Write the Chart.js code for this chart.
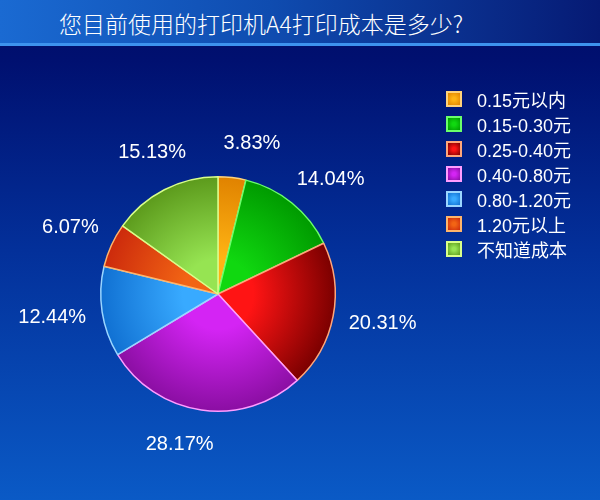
<!DOCTYPE html>
<html>
<head>
<meta charset="utf-8">
<script src="https://cdn.jsdelivr.net/npm/chart.js@4/dist/chart.umd.min.js"></script>
<style>
  html, body { margin: 0; padding: 0; }
  body {
    width: 600px; height: 500px; overflow: hidden; position: relative;
    background: linear-gradient(to bottom, #000c66 0px, #001070 60px, #03309a 250px, #0a5ac6 500px);
    font-family: "Liberation Sans", Arial, "Noto Sans CJK SC", sans-serif;
  }
  #title-bar {
    position: absolute; left: 0; top: 0; width: 600px; height: 43px;
    background: linear-gradient(to right, #1a6ad2 0%, #0f4cb0 45%, #061a74 100%);
    border-bottom: 3px solid #3d93ee;
  }
  #title {
    position: absolute; left: 0; width: 522px; top: 6px; text-align: center;
    color: #fff; font-size: 23px; font-family: "Noto Sans CJK SC", "Liberation Sans", sans-serif;
    font-weight: 300;
  }
  #chart-wrap { position: absolute; left: 0; top: 0; width: 600px; height: 500px; }
  #legend { position: absolute; left: 446px; top: 86px; color: #fff; font-size: 18px; }
  .legend-row { display: flex; align-items: center; height: 25px; }
  .legend-box { width: 16px; height: 16px; margin-right: 15px; border: 2px solid; box-sizing: border-box; }
</style>
</head>
<body>
<div id="title-bar"></div>
<div id="title">您目前使用的打印机A4打印成本是多少?</div>
<div id="chart-wrap"><canvas id="pie"></canvas></div>
<div id="legend"></div>
<script>
const categories = ["0.15元以内", "0.15-0.30元", "0.25-0.40元", "0.40-0.80元", "0.80-1.20元", "1.20元以上", "不知道成本"];
const shares = [3.83, 14.04, 20.31, 28.17, 12.44, 6.07, 15.13];

// inner (light) / outer (dark) shade per slice, plus the light rim
const innerColors = ["#ffb414", "#10d810", "#ff1414", "#d424f4", "#38aaff", "#f26414", "#96e452"];
const outerColors = ["#e08200", "#009a00", "#7a0000", "#8a0ea2", "#1070d2", "#cc2a0c", "#5c9a1c"];
const rimColors = ["#ffd27a", "#6aff6a", "#ffa67a", "#ff9cff", "#9ad6ff", "#ffb46a", "#d8ff8a"];

document.getElementById("legend").innerHTML = categories
  .map(
    (c, i) => `
  <div class="legend-row">
    <div class="legend-box" style="border-color:${rimColors[i]};background:radial-gradient(circle, ${innerColors[i]} 20%, ${outerColors[i]} 100%)"></div>
    <span>${c}</span>
  </div>`
  )
  .join("");

function sliceGradient(ctx) {
  const chart = ctx.chart;
  const area = chart.chartArea;
  if (!area) return innerColors[ctx.dataIndex];
  const cx = (area.left + area.right) / 2;
  const cy = (area.top + area.bottom) / 2;
  const r = Math.min(area.right - area.left, area.bottom - area.top) / 2;
  const g = chart.ctx.createRadialGradient(cx, cy, 0, cx, cy, r);
  g.addColorStop(0, innerColors[ctx.dataIndex]);
  g.addColorStop(0.3, innerColors[ctx.dataIndex]);
  g.addColorStop(1, outerColors[ctx.dataIndex]);
  return g;
}

/* ── OUTSIDE PERCENT LABELS ── */
const outsideLabels = {
  id: "outsideLabels",
  afterDatasetsDraw(chart) {
    const c = chart.ctx;
    const meta = chart.getDatasetMeta(0);
    c.save();
    c.font = '20px "Liberation Sans", Arial, sans-serif';
    c.fillStyle = "#ffffff";
    c.textBaseline = "middle";
    c.textAlign = "center";
    meta.data.forEach((arc, i) => {
      let mid = (arc.startAngle + arc.endAngle) / 2;
      // labels near top/bottom sit a little clockwise in the original
      mid += 0.09 * Math.sin(mid) ** 2;
      const dx = Math.cos(mid), dy = Math.sin(mid);
      const text = shares[i].toFixed(2) + "%";
      const half = c.measureText(text).width / 2;
      const r = arc.outerRadius + 25;
      const x = arc.x + dx * r + dx * half * 0.75;
      const y = arc.y + dy * r + dy * 12;
      c.fillText(text, x, y);
    });
    c.restore();
  },
};

new Chart(document.getElementById("pie"), {
  type: "pie",
  data: {
    labels: categories,
    datasets: [
      {
        data: shares,
        backgroundColor: sliceGradient,
        borderColor: rimColors,
        borderWidth: 1.5,
      },
    ],
  },
  options: {
    responsive: true,
    maintainAspectRatio: false,
    animation: false,
    layout: { padding: { left: 100, right: 264, top: 174, bottom: 86 } },
    plugins: { legend: { display: false }, tooltip: { enabled: false } },
  },
  plugins: [outsideLabels],
});
</script>
</body>
</html>
